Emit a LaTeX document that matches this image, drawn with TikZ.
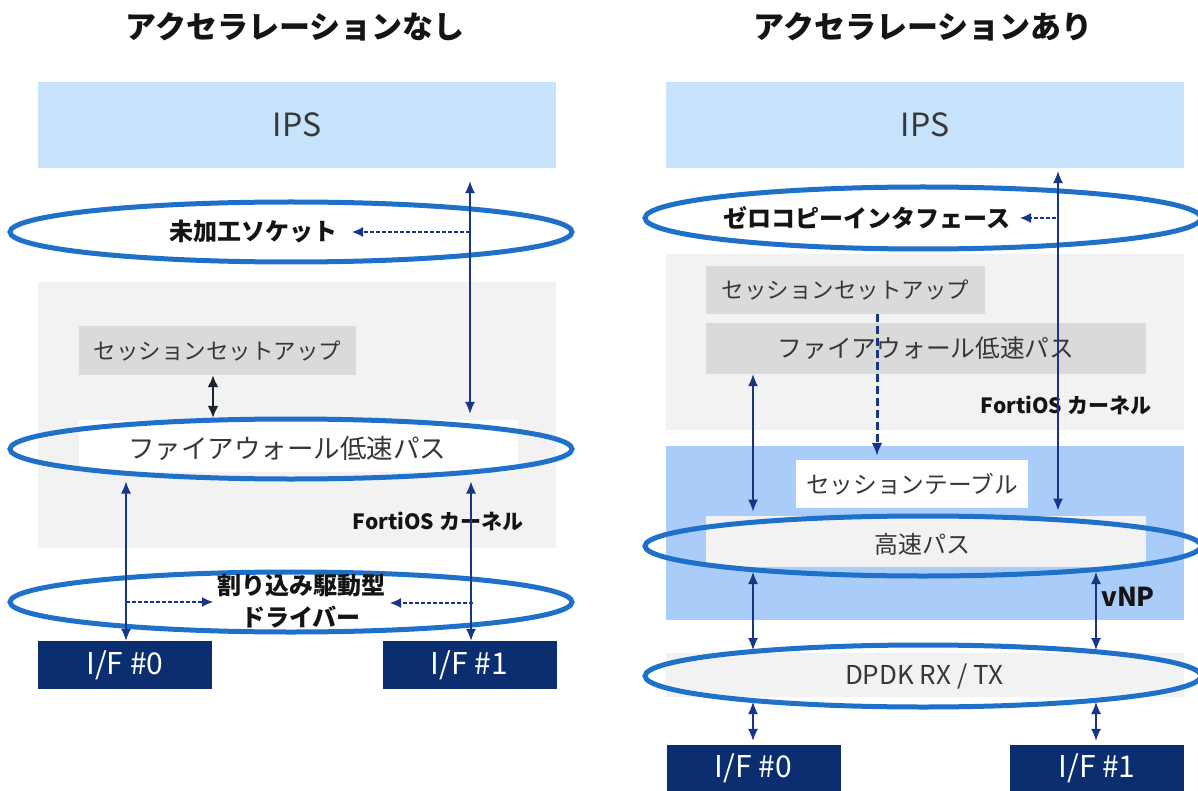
\documentclass[tikz,border=0pt]{standalone}
\usepackage{fontspec}
\setmainfont{Noto Sans CJK JP}
\usetikzlibrary{arrows.meta,shapes.geometric}
\newcommand\fz[1]{\fontsize{#1}{#1}\selectfont}
\definecolor{ipsblue}{RGB}{199,227,251}
\definecolor{kgray}{RGB}{242,242,242}
\definecolor{bgray}{RGB}{218,218,218}
\definecolor{vnpblue}{RGB}{170,204,248}
\definecolor{ifnavy}{RGB}{10,46,112}
\definecolor{ringblue}{RGB}{30,112,200}
\definecolor{arrnavy}{RGB}{22,54,134}
\definecolor{txtgray}{RGB}{55,55,55}
\definecolor{txtdark}{RGB}{20,20,20}
\definecolor{blk}{RGB}{25,35,50}
\tikzset{
  panel/.style={rectangle, inner sep=0pt, draw=none},
  ring/.style={ellipse, draw=ringblue, line width=5pt, inner sep=0pt, minimum height=60pt},
  lite/.style={font=\fz{22.5}, text=txtgray, inner sep=0pt},
  bld/.style={font=\bfseries\fz{24}, text=txtdark, inner sep=0pt},
  ttl/.style={font=\bfseries\fz{31}, text=txtdark, inner sep=0pt},
  ifbox/.style={panel, fill=ifnavy, text=white, font=\fz{30}, minimum width=174pt},
  bi/.style={{Latex[length=12pt,width=10pt]}-{Latex[length=12pt,width=10pt]}, line width=1.3pt, draw=arrnavy},
  biK/.style={{Latex[length=12pt,width=11pt]}-{Latex[length=12pt,width=11pt]}, line width=2pt, draw=blk},
  dsh/.style={-{Latex[length=11pt,width=10pt]}, dash pattern=on 4pt off 2pt, line width=1.2pt, draw=arrnavy},
  dshK/.style={-{Latex[length=13pt,width=11pt]}, dash pattern=on 8pt off 4pt, line width=3pt, draw=arrnavy}
}
\begin{document}
\begin{tikzpicture}[x=1pt,y=-1pt]
\useasboundingbox[fill=white] (0,0) rectangle (1198,791);

% ================= LEFT =================
\node[ttl] (tL) at (295,27) {アクセラレーションなし};
\node[panel, fill=ipsblue, minimum width=518pt, minimum height=86pt, font=\fz{32}, text=txtgray] (ipsL) at (297,125) {IPS};
\node[panel, fill=kgray, minimum width=518pt, minimum height=266pt] (kernL) at (297,415) {};
\node[panel, fill=bgray, minimum width=277pt, minimum height=49pt, lite] (sessL) at (217.5,350.5) {セッションセットアップ};
\node[panel, fill=white, minimum width=439pt, minimum height=52pt] (fwLb) at (298.5,446) {};
\node[ring, minimum width=562pt] (ell1) at (291,232) {};
\node[ring, minimum width=562pt] (ell2) at (291,449) {};
\node[ring, minimum width=562pt] (ell3) at (291,602) {};
\node[lite, font=\fz{26.5}] (fwL) at (287,448) {ファイアウォール低速パス};
\node[bld] (sockL) at (253,231) {未加工ソケット};
\node[bld, font=\bfseries\fontsize{24}{32}\selectfont, align=center] (drvL) at (301,601) {割り込み駆動型\\ドライバー};
\node[bld, font=\bfseries\fz{21}] (fortiL) at (438,521) {FortiOS カーネル};
\node[ifbox, minimum height=48pt] (ifL0) at (125,665) {I/F \#0};
\node[ifbox, minimum height=48pt] (ifL1) at (469.5,665) {I/F \#1};

\coordinate (xLa) at (470,0);
\coordinate (xLs) at (213,0);
\coordinate (xL1) at (126,0);
\coordinate (xL2) at (471,0);
\coordinate (sockTip) at (352,232);
\coordinate (drvTipL) at (213,602);
\coordinate (drvTipR) at (390,603);

\draw[bi, shorten <=13pt, shorten >=6pt] (xLa |- ipsL.south) -- (xLa |- fwLb.north);
\draw[biK, shorten >=2pt] (xLs |- sessL.south) -- (xLs |- fwLb.north);
\draw[bi] (xL1 |- ell2.south) -- (xL1 |- ifL0.north);
\draw[bi] (xL2 |- ell2.south) -- (xL2 |- ifL1.north);
\draw[dsh] (xLa |- ell1.center) -- (sockTip);
\draw[dsh] (xL1 |- ell3.center) -- (drvTipL);
\draw[dsh] (473,603) -- (drvTipR);

% ================= RIGHT =================
\node[ttl] (tR) at (923,27) {アクセラレーションあり};
\node[panel, fill=ipsblue, minimum width=518pt, minimum height=86pt, font=\fz{32}, text=txtgray] (ipsR) at (925,125) {IPS};
\node[panel, fill=kgray, minimum width=518pt, minimum height=176pt] (kernR) at (925,342) {};
\node[panel, fill=bgray, minimum width=279pt, minimum height=48pt, lite] (sessR) at (845.5,290) {セッションセットアップ};
\node[panel, fill=bgray, minimum width=440pt, minimum height=51pt, lite, font=\fz{24.7}] (fwR) at (926,348.5) {ファイアウォール低速パス};
\node[bld, font=\bfseries\fz{21}] (fortiR) at (1066,405) {FortiOS カーネル};
\node[panel, fill=vnpblue, minimum width=518pt, minimum height=174pt] (vnp) at (925,533) {};
\node[panel, fill=white, minimum width=232pt, minimum height=48pt, lite, font=\fz{23.7}] (tbl) at (912,484) {セッションテーブル};
\node[panel, fill=kgray, minimum width=440pt, minimum height=51pt] (fastb) at (926,541.5) {};
\node[panel, fill=kgray, minimum width=518pt, minimum height=44pt] (dpdkb) at (925,675) {};
\node[ring, minimum width=556pt, minimum height=62pt] (ell0) at (923,218) {};
\node[ring, minimum width=556pt] (ellF) at (923,546) {};
\node[ring, minimum width=556pt, minimum height=62pt] (ellD) at (923,676) {};
\node[bld] (zeroT) at (867,218) {ゼロコピーインタフェース};
\node[lite, font=\fz{24}] (fastT) at (922,544) {高速パス};
\node[lite, font=\fz{26}] (dpdkT) at (924,676) {DPDK RX / TX};
\node[bld, font=\bfseries\fz{26}] (vnpT) at (1128,597) {vNP};
\node[ifbox, minimum height=46pt] (ifR0) at (753.5,768) {I/F \#0};
\node[ifbox, minimum height=46pt] (ifR1) at (1097,768) {I/F \#1};

\coordinate (xRa) at (1058,0);
\coordinate (xRd) at (877,0);
\coordinate (xR1) at (753,0);
\coordinate (xR2) at (1096,0);
\coordinate (zeroTip) at (1020,218);
\coordinate (fUpL) at (753,572);
\coordinate (fUpR) at (1096,572);
\coordinate (dTopL) at (753,650);
\coordinate (dTopR) at (1096,650);
\coordinate (dBotL) at (753,702);
\coordinate (dBotR) at (1096,702);

\draw[bi, shorten <=3pt, shorten >=3pt] (xRa |- ipsR.south) -- (xRa |- ellF.north);
\draw[dsh] (1056,218) -- (zeroTip);
\draw[dshK, shorten >=4pt] (xRd |- sessR.south) -- (xRd |- tbl.north);
\draw[bi, shorten >=2pt] (xR1 |- fwR.south) -- (xR1 |- ellF.north);
\draw[bi] (fUpL) -- (dTopL);
\draw[bi] (fUpR) -- (dTopR);
\draw[bi, shorten >=4pt] (dBotL) -- (xR1 |- ifR0.north);
\draw[bi, shorten >=4pt] (dBotR) -- (xR2 |- ifR1.north);
\end{tikzpicture}
\end{document}
